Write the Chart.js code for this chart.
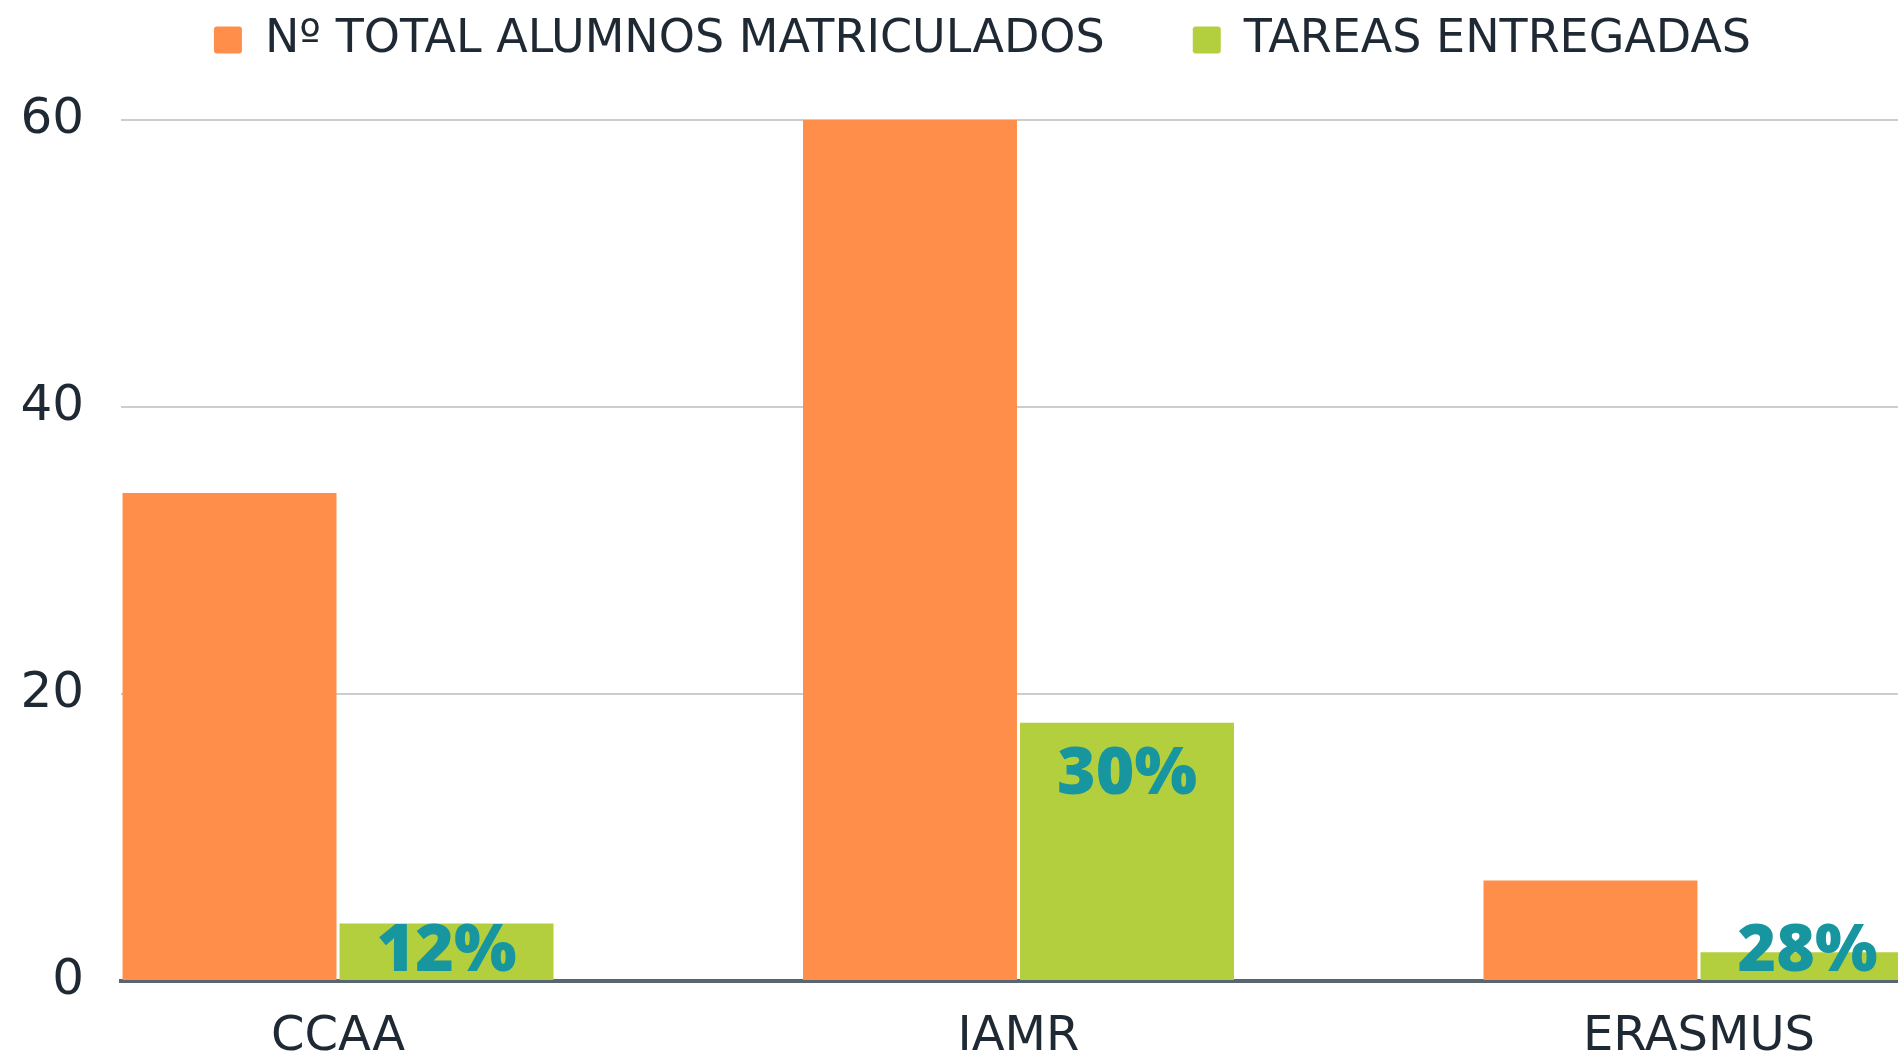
<!DOCTYPE html>
<html>
<head>
<meta charset="utf-8">
<script src="https://cdn.jsdelivr.net/npm/chart.js@4.4.1/dist/chart.umd.min.js"></script>
<style>
html,body{margin:0;padding:0;background:#fff;overflow:hidden}
#wrap{width:1965px;height:1056px}
</style>
</head>
<body>
<div id="wrap"><canvas id="chart" width="1965" height="1056"></canvas></div>
<script>
const categories = ["CCAA","IAMR","ERASMUS"]
const enrolled = [34,60,7]
const delivered = [4,18,2]
const deliveredPct = ["12%","30%","28%"]
const yTicks = [0,20,40,60]

const textColor = "#1f2933"
const fontFamily = "'DejaVu Sans', sans-serif"

// percentage printed on the green bars
const pctLabels = {
id:"pctLabels",
afterDatasetsDraw(chart){
const meta = chart.getDatasetMeta(1)
const ctx = chart.ctx
ctx.save()
ctx.font = "800 66px 'Open Sans'"
ctx.fillStyle = "#1796a0"
ctx.textAlign = "center"
ctx.textBaseline = "alphabetic"
meta.data.forEach((bar,i)=>{
const y = Math.min(bar.y + 71, bar.base - 9)
ctx.fillText(deliveredPct[i], bar.x, y)
})
ctx.restore()
}
}

// fixed legend height so the plot starts at the same place
const legendHeight = {
id:"legendHeight",
beforeInit(chart){
const fit = chart.legend.fit
chart.legend.fit = function(){
fit.bind(chart.legend)()
this.height = 191
}
}
}

const ctx = document.getElementById("chart").getContext("2d")

new Chart(ctx,{
type:"bar",
data:{
datasets:[{
label:"Nº TOTAL ALUMNOS MATRICULADOS",
data:categories.map((c,i)=>({x:i,y:enrolled[i]})),
backgroundColor:"#ff8e4b"
},{
label:"TAREAS ENTREGADAS",
data:categories.map((c,i)=>({x:i,y:delivered[i]})),
backgroundColor:"#b4cf3e"
}]
},
options:{
responsive:false,
animation:false,
categoryPercentage:0.6378,
barPercentage:0.986,
layout:{padding:{top:-71,left:0,right:0,bottom:0}},
plugins:{
tooltip:{enabled:false},
legend:{
position:"top",
labels:{
boxWidth:28,
boxHeight:27,
padding:88,
color:textColor,
useBorderRadius:true,
borderRadius:3,
font:{family:fontFamily,size:46}
}
}
},
scales:{
x:{
type:"linear",
offset:false,
min:-0.3189,
max:2.3909,
afterFit(s){ s.height = 75 },
// one tick per category only
afterBuildTicks(s){ s.ticks = categories.map((c,i)=>({value:i})) },
grid:{display:false},
border:{display:true,color:"#59656f",width:4},
ticks:{
autoSkip:false,
maxRotation:0,
padding:20,
color:textColor,
font:{family:fontFamily,size:48},
callback:v=>categories[v]
}
},
y:{
min:0,
max:60,
afterFit(s){ s.width = 121 },
afterBuildTicks(s){ s.ticks = yTicks.map(v=>({value:v})) },
border:{display:false},
grid:{color:"#c9ced3",lineWidth:2,drawTicks:false},
ticks:{
padding:37,
color:textColor,
font:{family:fontFamily,size:50}
}
}
}
},
plugins:[pctLabels,legendHeight]
})
</script>
</body>
</html>
